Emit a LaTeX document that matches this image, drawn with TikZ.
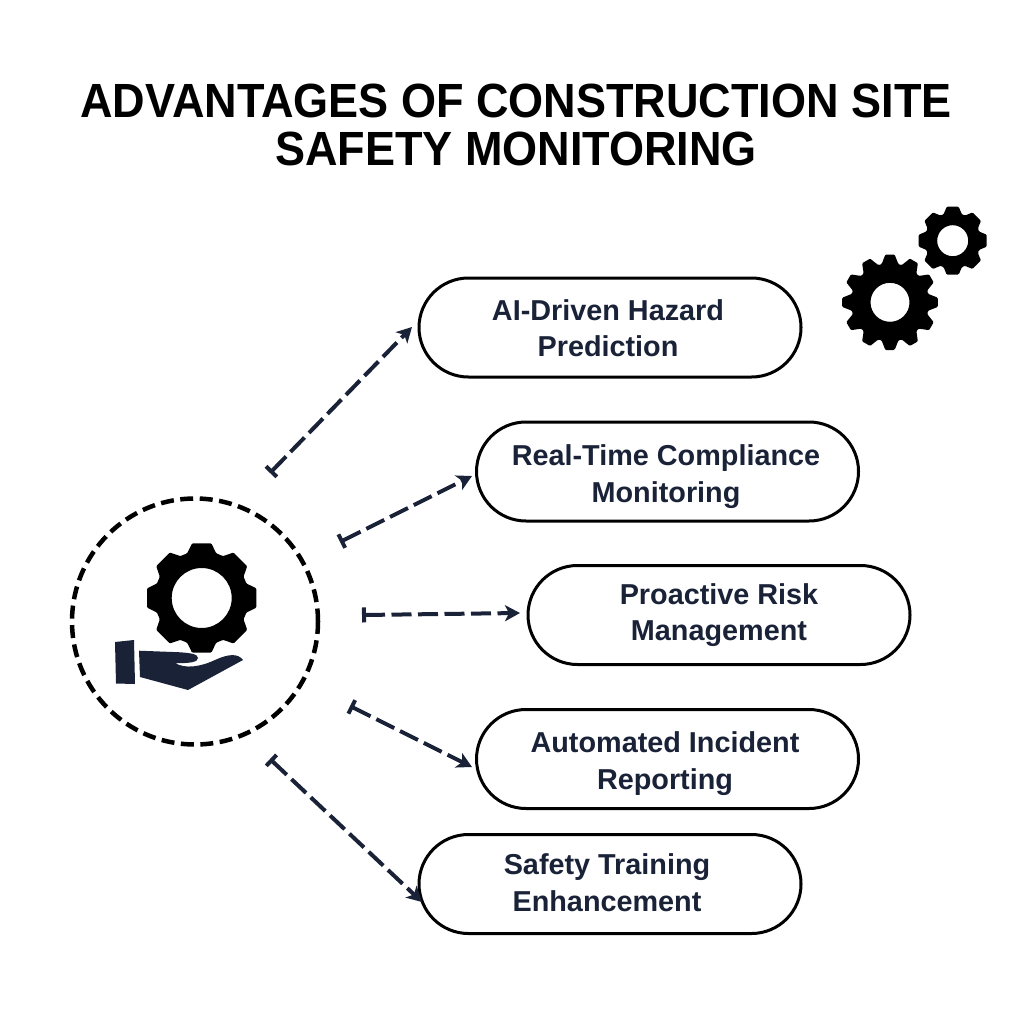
\documentclass[tikz,border=0pt]{standalone}
\usepackage{fontspec}
\setmainfont{Liberation Sans}
\usetikzlibrary{arrows.meta,shapes.misc}
\definecolor{navy}{HTML}{1A2238}
\newcommand{\gearshape}[8]{% cx cy router rroot teeth hole halfOuter halfRoot
  \begin{scope}[shift={(#1,#2)}]
    \pgfmathsetmacro{\gstep}{360/#5}
    \pgfmathsetmacro{\glast}{#5-1}
    \fill[black,even odd rule,rounded corners=1pt] (90-#7:#3)
      \foreach \gi in {0,...,\glast}{
        -- ({90+\gi*\gstep-#7}:#3) -- ({90+\gi*\gstep+#7}:#3) -- ({90+\gi*\gstep+#8}:#4) -- ({90+(\gi+1)*\gstep-#8}:#4)
      } -- cycle (0,0) circle[radius=#6];
  \end{scope}}
\tikzset{
  pill/.style={rounded rectangle,draw=black,line width=3pt,fill=white,minimum width=382pt,minimum height=99pt,inner sep=0pt},
  label/.style={text=navy,align=center,inner sep=0pt,text height=21pt,text depth=6pt,font=\fontsize{28.8}{36.5}\selectfont\bfseries},
  link/.style={navy,line width=4pt,dash pattern=on 20pt off 6.5pt,{Bar[width=15pt,length=3.5pt]}-{Stealth[length=15pt,width=16pt,inset=4pt]}},
  titletext/.style={align=center,font=\fontsize{48}{48}\selectfont\bfseries,text=black,inner sep=0pt,xscale=.938,transform shape}
}
\begin{document}
\begin{tikzpicture}[x=1pt,y=-1pt]
\useasboundingbox (0,0) rectangle (1024,1024);
\fill[white] (0,0) rectangle (1024,1024);
\node[titletext] (title) at (516,125) {ADVANTAGES OF CONSTRUCTION SITE\\SAFETY MONITORING};
\node[pill] (p1) at (610,327.5) {};
\node[pill] (p2) at (667.5,471.5) {};
\node[pill] (p3) at (719,615) {};
\node[pill] (p4) at (667.5,759) {};
\node[pill] (p5) at (610,884) {};
\node[label] (l1) at (608,349) {AI-Driven Hazard\\Prediction};
\node[label] (l2) at (666,494.5) {Real-Time Compliance\\Monitoring};
\node[label] (l3) at (719,633) {Proactive Risk\\Management};
\node[label] (l4) at (665,781.5) {Automated Incident\\Reporting};
\node[label] (l5) at (607,903.5) {Safety Training\\Enhancement};
\node[circle,draw=black,line width=4.5pt,dash pattern=on 13pt off 6.5pt,minimum size=246pt,inner sep=0pt] (hub) at (195,621.5) {};
\gearshape{201.7}{598}{55.5}{47}{8}{30}{10}{18}
\gearshape{890}{302.3}{48}{39}{12}{19.5}{5.5}{12.5}
\gearshape{952.7}{240.7}{34.5}{28}{8}{15.5}{10}{19}
\fill[navy] (115,642) -- (134,640) -- (135,684) -- (116,683.5) -- cycle;
\fill[navy] (139,650.7) -- (173,652) .. controls (190,652.5) and (198,654) .. (198,658)
  .. controls (198,662) and (190,663.5) .. (175,663)
  .. controls (185,669) and (200,667) .. (215,660)
  .. controls (228,654) and (238,653) .. (243,660)
  -- (188,690) -- (140,677) -- cycle;
\coordinate (s1) at (270,473); \coordinate (e1) at (412,327);
\coordinate (s2) at (340,542); \coordinate (e2) at (472,476);
\coordinate (s3) at (362,615); \coordinate (e3) at (520,613);
\coordinate (s4) at (350,706); \coordinate (e4) at (472,767);
\coordinate (s5) at (270,759); \coordinate (e5) at (422,902);
\draw[link] (s1) -- (e1);
\draw[link] (s2) -- (e2);
\draw[link] (s3) -- (e3);
\draw[link] (s4) -- (e4);
\draw[link] (s5) -- (e5);
\end{tikzpicture}
\end{document}
